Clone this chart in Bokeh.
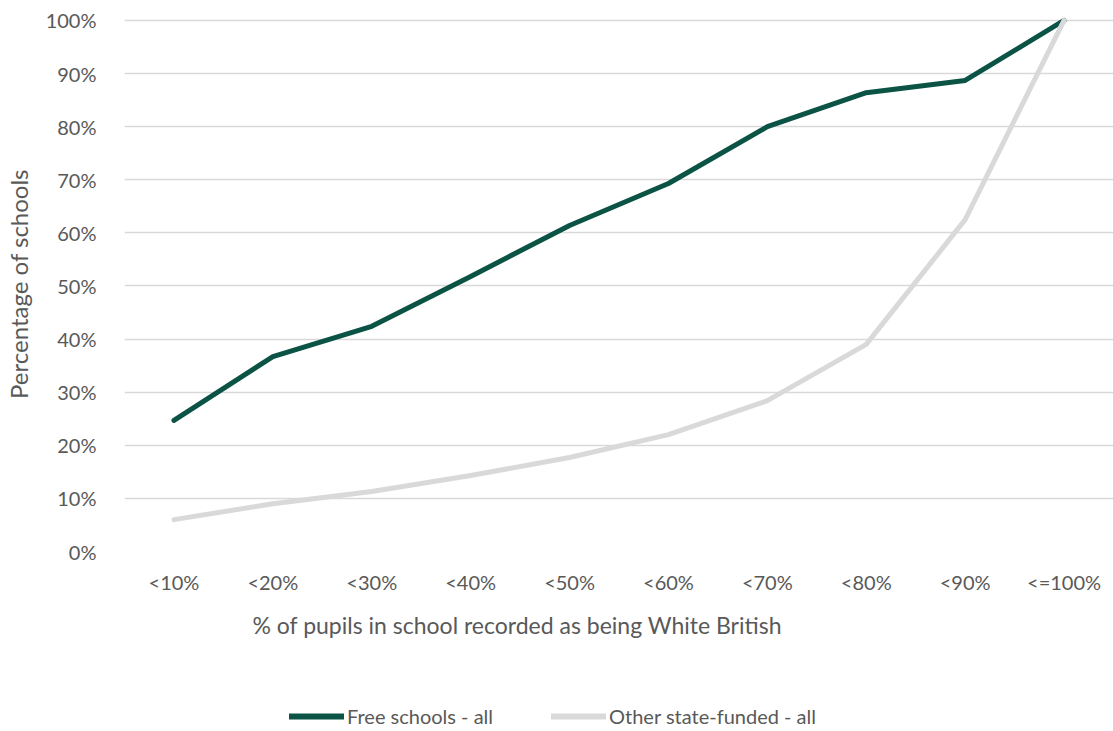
from bokeh.plotting import figure
from bokeh.layouts import column
from bokeh.models import FactorRange, Range1d, NumeralTickFormatter, Legend, LegendItem, Title, FixedTicker
from bokeh.embed import file_html
from bokeh.resources import INLINE

categories = ["<10%", "<20%", "<30%", "<40%", "<50%", "<60%", "<70%", "<80%", "<90%", "<=100%"]
free_schools = [0.247, 0.367, 0.424, 0.518, 0.614, 0.693, 0.800, 0.864, 0.887, 1.000]
other_state = [0.060, 0.090, 0.113, 0.143, 0.177, 0.220, 0.284, 0.390, 0.625, 1.000]
y_ticks = [0.0, 0.1, 0.2, 0.3, 0.4, 0.5, 0.6, 0.7, 0.8, 0.9, 1.0]
series_names = ["Free schools - all", "Other state-funded - all"]
series_colors = ["#0B5345", "#D9D9D9"]

FONT = "Lato"
TXT = "#595959"

p = figure(width=1113, height=651, x_range=FactorRange(*categories, range_padding=0),
           y_range=Range1d(0, 1.0075), output_backend="svg", toolbar_location=None,
           min_border_left=120, min_border_right=0, min_border_top=16, min_border_bottom=100)
p.outline_line_color = None
p.background_fill_color = "white"
p.border_fill_color = "white"

p.line(categories, free_schools, line_color=series_colors[0], line_width=5, line_cap="round", line_join="round")
p.line(categories, other_state, line_color=series_colors[1], line_width=5, line_cap="round", line_join="round")

p.xgrid.grid_line_color = None
p.ygrid.grid_line_color = "#D9D9D9"
p.ygrid.grid_line_width = 1.5
p.yaxis.ticker = FixedTicker(ticks=y_ticks)
p.yaxis.formatter = NumeralTickFormatter(format="0%")

for ax in (p.xaxis[0], p.yaxis[0]):
    ax.axis_line_color = None
    ax.major_tick_line_color = None
    ax.minor_tick_line_color = None
    ax.major_label_text_font = FONT
    ax.major_label_text_font_size = "20px"
    ax.major_label_text_color = TXT
    ax.axis_label_text_font = FONT
    ax.axis_label_text_font_size = "24px"
    ax.axis_label_text_color = TXT
    ax.axis_label_text_font_style = "normal"

p.xaxis.major_label_standoff = 12
p.yaxis.major_label_standoff = 22
p.yaxis.axis_label = "Percentage of schools"
p.yaxis.axis_label_standoff = 10

xt = Title(text="% of pupils in school recorded as being White British", align="left", offset=128,
           text_font=FONT, text_font_size="23px", text_color=TXT, text_font_style="normal",
           standoff=24)
p.add_layout(xt, "below")

# legend strip
p2 = figure(width=1113, height=80, x_range=Range1d(0, 1), y_range=Range1d(0, 1),
            output_backend="svg", toolbar_location=None, x_axis_type=None, y_axis_type=None,
            min_border_left=0, min_border_right=0, min_border_top=0, min_border_bottom=0)
p2.outline_line_color = None
p2.xgrid.grid_line_color = None
p2.ygrid.grid_line_color = None
rs = [p2.line(x=[5, 6], y=[5, 5], line_color=c, line_width=6, line_cap="round") for c in series_colors]
legend = Legend(items=[LegendItem(label=n, renderers=[r]) for n, r in zip(series_names, rs)],
                orientation="horizontal", location=(165, 3), padding=0, margin=0,
                label_text_font=FONT, label_text_font_size="20px", label_text_color=TXT,
                glyph_width=55, label_standoff=3, spacing=58, border_line_color=None,
                background_fill_alpha=0)
p2.add_layout(legend, "center")

open("out.html", "w").write(file_html(column(p, p2, spacing=0), INLINE))
